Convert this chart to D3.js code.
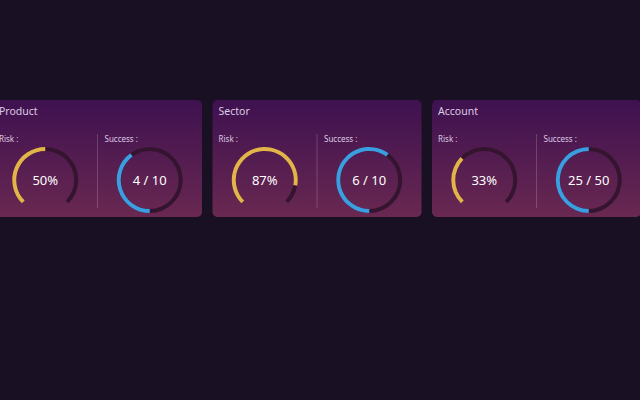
<!DOCTYPE html>
<html>
<head>
<meta charset="utf-8">
<script src="https://cdn.jsdelivr.net/npm/d3@7"></script>
<style>
  html, body { margin: 0; padding: 0; background: #1a1023; overflow: hidden; }
  text { font-family: "Noto Sans", "Open Sans", sans-serif; }
</style>
</head>
<body>
<script>
// chart data
const cards = ["Product", "Sector", "Account"];
const riskValues = [50, 87, 33];
const successDone = [4, 6, 25];
const successTotal = [10, 10, 50];

const width = 640, height = 400;
const cardTop = 100, cardHeight = 117;

const svg = d3.select("body").append("svg")
    .attr("width", width)
    .attr("height", height);

// card gradient
const grad = svg.append("defs").append("linearGradient")
    .attr("id", "cardGrad")
    .attr("x1", 0).attr("y1", 0).attr("x2", 0).attr("y2", 1);
grad.append("stop").attr("offset", "0%").attr("stop-color", "#3e1150");
grad.append("stop").attr("offset", "100%").attr("stop-color", "#692851");

// cards are laid out in a band scale (first one is partly off screen)
const xCard = d3.scaleBand()
    .domain(cards)
    .range([-7, 641])
    .paddingInner(0.048);

const riskAngle = d3.scaleLinear()
    .domain([0, 100])
    .range([-0.75 * Math.PI, 0.75 * Math.PI]);

const arc = d3.arc()
    .innerRadius(29)
    .outerRadius(33);

const card = svg.selectAll("g.card")
    .data(cards)
    .enter()
    .append("g")
    .attr("class", "card")
    .attr("transform", d => "translate(" + xCard(d) + "," + cardTop + ")");

card.append("rect")
    .attr("width", xCard.bandwidth())
    .attr("height", cardHeight)
    .attr("rx", 5)
    .style("fill", "url(#cardGrad)");

card.append("text")
    .attr("x", 6)
    .attr("y", 15)
    .style("font-size", "10.5px")
    .style("fill", "#dccbe3")
    .text(d => d);

const half = xCard.bandwidth() / 2;

// divider
card.append("line")
    .attr("x1", half).attr("x2", half)
    .attr("y1", 34).attr("y2", 108)
    .style("stroke", "#ffffff")
    .style("stroke-opacity", 0.18)
    .style("stroke-width", 1);

card.append("text")
    .attr("x", 6)
    .attr("y", 42)
    .style("font-size", "8px")
    .style("fill", "#dccbe3")
    .text("Risk :");

card.append("text")
    .attr("x", half + 7)
    .attr("y", 42)
    .style("font-size", "8px")
    .style("fill", "#dccbe3")
    .text("Success :");

const gaugeY = 80;

// risk gauges
const risk = card.append("g")
    .attr("transform", "translate(" + (half / 2) + "," + gaugeY + ")");

risk.append("path")
    .attr("d", arc({ startAngle: riskAngle(0), endAngle: riskAngle(100) }))
    .style("fill", "#35142f");

risk.append("path")
    .attr("d", (d, i) => arc({ startAngle: riskAngle(0), endAngle: riskAngle(riskValues[i]) }))
    .style("fill", "#e3b44a");

risk.append("text")
    .attr("text-anchor", "middle")
    .attr("dy", "0.35em")
    .style("font-size", "13px")
    .style("fill", "#ffffff")
    .text((d, i) => riskValues[i] + "%");

// success gauges
const success = card.append("g")
    .attr("transform", "translate(" + (half * 1.5) + "," + gaugeY + ")");

success.append("path")
    .attr("d", arc({ startAngle: 0, endAngle: 2 * Math.PI }))
    .style("fill", "#35142f");

success.append("path")
    .attr("d", (d, i) => {
        const a = d3.scaleLinear().domain([0, successTotal[i]]).range([Math.PI, 3 * Math.PI]);
        return arc({ startAngle: a(0), endAngle: a(successDone[i]) });
    })
    .style("fill", "#3b9ee0");

success.append("text")
    .attr("text-anchor", "middle")
    .attr("dy", "0.35em")
    .style("font-size", "13px")
    .style("fill", "#ffffff")
    .text((d, i) => successDone[i] + " / " + successTotal[i]);
</script>
</body>
</html>
